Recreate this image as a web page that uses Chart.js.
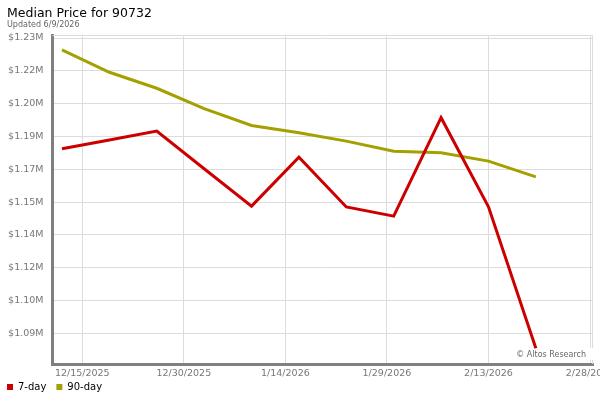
<!DOCTYPE html>
<html>
<head>
<meta charset="utf-8">
<script src="https://cdn.jsdelivr.net/npm/chart.js@4"></script>
<style>
  html, body { margin: 0; padding: 0; background: #fff; }
  #wrap { width: 600px; height: 400px; }
</style>
</head>
<body>
<div id="wrap"><canvas id="myChart"></canvas></div>
<script>
const dates = ['2025-12-12', '2025-12-19', '2025-12-26', '2026-01-02', '2026-01-09', '2026-01-16',
  '2026-01-23', '2026-01-30', '2026-02-06', '2026-02-13', '2026-02-20'];
const sevenDay = [1179300, 1183700, 1188100, 1169300, 1150600, 1175100, 1150200, 1145600, 1194800, 1150300, 1079600];
const ninetyDay = [1228700, 1217500, 1209500, 1199300, 1190900, 1187300, 1183100, 1178000, 1177300, 1173100, 1165200];
const xTickDates = ['2025-12-15', '2025-12-30', '2026-01-14', '2026-01-29', '2026-02-13', '2026-02-28'];
const yTicks = [1087000, 1103400, 1119800, 1136200, 1152600, 1169000, 1185400, 1201800, 1218200, 1234600];

const DAY = 86400000;
const dayNum = s => {
  const p = s.split('-');
  return Date.UTC(+p[0], +p[1] - 1, +p[2]) / DAY;
};
const base = dayNum(xTickDates[0]);
const toPoints = vals => dates.map((d, i) => ({ x: dayNum(d) - base, y: vals[i] }));
const fmtDate = v => {
  const d = new Date((base + v) * DAY);
  return (d.getUTCMonth() + 1) + '/' + d.getUTCDate() + '/' + d.getUTCFullYear();
};

const FONT = 'DejaVu Sans';

const frame = {
  id: 'frame',
  afterLayout(chart) {
    // nudge legend to the left edge and let x labels draw below the thin axis box
    chart.legend.left -= 10;
    chart.legend.top += 2;
    chart.scales.x.bottom = chart.height;
  },
  beforeDatasetsDraw(chart) {
    const { ctx, chartArea: a } = chart;
    ctx.save();
    ctx.strokeStyle = '#dcdcdc';
    ctx.lineWidth = 1;
    ctx.beginPath();
    ctx.moveTo(a.left, a.top + 0.5);
    ctx.lineTo(a.right - 0.5, a.top + 0.5);
    ctx.lineTo(a.right - 0.5, a.bottom);
    ctx.stroke();
    // watermark
    ctx.font = '8px ' + FONT;
    const txt = '\u00A9 Altos Research';
    const w = ctx.measureText(txt).width;
    ctx.fillStyle = '#fff';
    ctx.fillRect(a.right - 7 - w - 4, a.bottom - 16, w + 11, 12);
    ctx.fillStyle = '#666';
    ctx.textAlign = 'right';
    ctx.textBaseline = 'alphabetic';
    ctx.fillText(txt, a.right - 7, a.bottom - 7);
    ctx.restore();
  }
};

new Chart(document.getElementById('myChart'), {
  type: 'line',
  data: {
    datasets: [{
      label: '7-day',
      data: toPoints(sevenDay),
      borderColor: '#cc0000',
      backgroundColor: '#cc0000',
      borderWidth: 3,
      pointRadius: 0,
      tension: 0
    },
    {
      label: '90-day',
      data: toPoints(ninetyDay),
      borderColor: '#a3a000',
      backgroundColor: '#a3a000',
      borderWidth: 3,
      pointRadius: 0,
      tension: 0
    }]
  },
  options: {
    responsive: true,
    maintainAspectRatio: false,
    animation: false,
    layout: { padding: { left: 7, right: 7, top: 0, bottom: 0 } },
    scales: {
      x: {
        type: 'linear',
        min: -4.4,
        max: 75.44,
        afterBuildTicks: s => { s.ticks = xTickDates.map(d => ({ value: dayNum(d) - base })); },
        afterFit: s => { s.height = 6; s.paddingLeft = 0; s.paddingRight = 0; },
        grid: { color: '#dcdcdc', drawTicks: false },
        border: { color: '#808080', width: 3 },
        ticks: {
          color: '#777',
          font: { family: FONT, size: 9.5 },
          padding: 4,
          maxRotation: 0,
          autoSkip: false,
          callback: v => fmtDate(v)
        }
      },
      y: {
        min: 1071760,
        max: 1236100,
        afterBuildTicks: s => { s.ticks = yTicks.map(v => ({ value: v })); },
        afterFit: s => { s.width = 45.5; s.paddingTop = 0; s.paddingBottom = 0; },
        grid: { color: '#dcdcdc', drawTicks: false },
        border: { color: '#808080', width: 3 },
        ticks: {
          color: '#777',
          font: { family: FONT, size: 9.5 },
          padding: 9,
          callback: v => '$' + (v / 1e6).toFixed(2) + 'M'
        }
      }
    },
    plugins: {
      title: {
        display: true,
        text: 'Median Price for 90732',
        align: 'start',
        color: '#000',
        font: { family: FONT, size: 12.5, weight: 'normal', lineHeight: 1 },
        padding: { top: 7.75, bottom: 0 }
      },
      subtitle: {
        display: true,
        text: 'Updated 6/9/2026',
        align: 'start',
        color: '#666',
        font: { family: FONT, size: 8, lineHeight: 1 },
        padding: { top: 0.25, bottom: 6.5 }
      },
      legend: {
        position: 'bottom',
        align: 'start',
        labels: {
          boxWidth: 6,
          boxHeight: 6,
          padding: 10,
          color: '#000',
          font: { family: FONT, size: 10 },
          generateLabels(chart) {
            const items = Chart.defaults.plugins.legend.labels.generateLabels(chart);
            items.forEach(i => { i.lineWidth = 0; i.fillStyle = i.strokeStyle; });
            return items;
          }
        }
      },
      tooltip: { enabled: false }
    }
  },
  plugins: [frame]
});
</script>
</body>
</html>
